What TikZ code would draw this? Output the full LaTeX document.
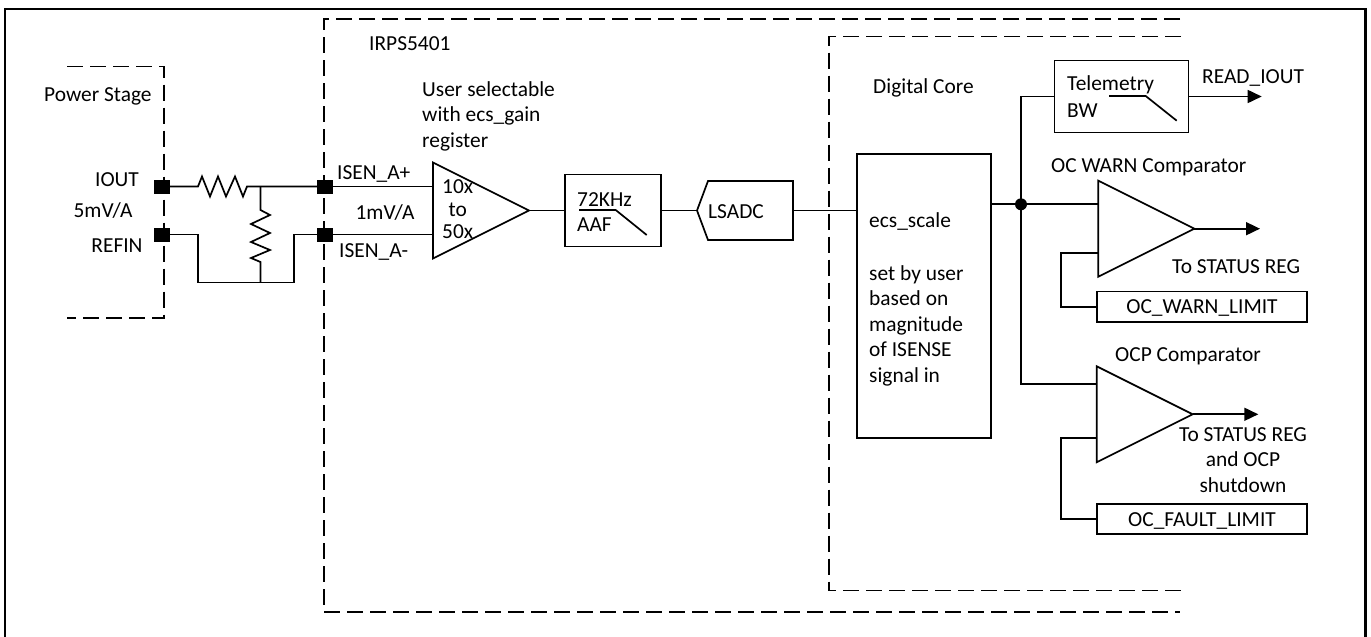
\documentclass[tikz,border=0pt]{standalone}
\usepackage{fontspec}
\setmainfont{Carlito}
\usetikzlibrary{arrows.meta,shapes.geometric}
\tikzset{
  wire/.style={line width=1.7pt},
  dashbox/.style={line width=1.7pt,dash pattern=on 16pt off 7pt},
  pinsq/.style={fill=black,inner sep=0pt,minimum width=16pt,minimum height=14pt},
  blockbox/.style={draw,line width=1.7pt,inner sep=0pt,outer sep=0pt},
  amptri/.style={draw,line width=1.7pt,isosceles triangle,isosceles triangle stretches,
    minimum width=96pt,minimum height=96pt,inner sep=0pt,outer sep=0pt,anchor=apex},
  lbl/.style={inner sep=0pt,yshift=-1.5pt,font=\fontsize{21.4}{25.5}\selectfont,align=left},
  lblc/.style={lbl,align=center},
  outwire/.style={line width=1.7pt,-{Triangle[length=14pt,width=13pt]}}
}
\begin{document}
\begin{tikzpicture}[x=1pt,y=-1pt]
\useasboundingbox (0,0) rectangle (1371,637);
\draw[line width=2.4pt] (5,637) -- (5,9) -- (1365.5,9) -- (1365.5,637);

\draw[dashbox] (67,66.5) -- (164,66.5) -- (164,318) -- (67,318);
\draw[dashbox] (1180,19) -- (324,19) -- (324,612) -- (1180,612);
\draw[dashbox] (1181,36.5) -- (829,36.5) -- (829,590.5) -- (1181,590.5);

\foreach \name/\x/\y in {iout/162/186.5, refin/162/234.5, isenp/325/186.5, isenm/325/234.5}
	{\node[pinsq] (\name) at (\x,\y) {};};

\node[amptri] (amp) at (529,210.5) {};
\node[blockbox,minimum width=96pt,minimum height=72pt] (aaf) at (613,210.5) {};
\node[blockbox,minimum width=134pt,minimum height=284pt] (ecs) at (924,295.7) {};
\node[blockbox,minimum width=134pt,minimum height=72pt] (telem) at (1121.5,96.5) {};
\node[amptri] (warn) at (1194.3,228.7) {};
\node[amptri] (ocp) at (1192.7,414.3) {};
\node[blockbox,minimum width=209.5pt,minimum height=30.5pt] (warnlim) at (1202,306.8) {};
\node[blockbox,minimum width=209.5pt,minimum height=30.5pt] (faultlim) at (1202,519) {};

\coordinate (adcl) at (697,210.5);
\coordinate (adcr) at (793,210.5);
\draw[wire] (adcl) -- (708,181) -- (793,181) -- (793,240) -- (708,240) -- cycle;

\coordinate (rsa) at (198,186.5);
\coordinate (rsb) at (247,186.5);
\coordinate (rpa) at (260.5,186.5);
\coordinate (rpb) at (260.5,210);
\coordinate (rpc) at (260.5,262);
\coordinate (rpd) at (260.5,282.5);
\coordinate (gnda) at (198,282.5);
\coordinate (gndb) at (294,282.5);
\coordinate (tap) at (1021,204.3);
\coordinate (ocpin) at (1021,384);
\fill (tap) circle(6pt);

\draw[wire] (iout) -- (rsa) -- ++(4,-10) -- ++(8,20) -- ++(8,-20) -- ++(8,20) -- ++(9,-20) -- ++(8,20) -- (rsb) -- (isenp);
\draw[wire] (isenp) -- (isenp -| amp.lower side);
\draw[wire] (rpa) -- (rpb) -- ++(9.5,5) -- ++(-19,9) -- ++(19,9) -- ++(-19,9) -- ++(19,8) -- ++(-19,8) -- (rpc) -- (rpd);
\draw[wire] (refin) -- (refin -| gnda) -- (gnda) -- (gndb) -- (isenm -| gndb) -- (isenm);
\draw[wire] (isenm) -- (isenm -| amp.lower side);
\draw[wire] (amp.apex) -- (aaf);
\draw[wire] (aaf) -- (adcl);
\draw[wire] (adcr) -- (adcr -| ecs.west);
\draw[wire] (tap -| ecs.east) -- (tap -| warn.lower side);
\draw[wire] (telem.west) -- (telem.west -| tap) -- (ocpin) -- (ocpin -| ocp.lower side);
\draw[outwire] (telem.east) -- (1261.7,96.5);
\draw[outwire] (warn.apex) -- (1260,228.7);
\draw[outwire] (ocp.apex) -- (1258.3,414.3);
\draw[wire] (warnlim.west) -- (1061.3,306.8) -- (1061.3,252.7) -- (warn.lower side |- 0,252.7);
\draw[wire] (faultlim.west) -- (1061.3,519) -- (1061.3,438) -- (ocp.lower side |- 0,438);

\draw[wire] (579,210) -- (615.7,210) -- (646.7,235);
\draw[wire] (1109,96) -- (1145.7,96) -- (1176.7,120.7);

\node[lbl,anchor=west] (lpower) at (44,95) {Power Stage};
\node[lbl] (liout) at (117,178) {IOUT};
\node[lbl] (lgain) at (103,209) {5mV/A};
\node[lbl] (lrefin) at (117,244) {REFIN};
\node[lbl,anchor=west] (lisenp) at (337,172) {ISEN\_A+};
\node[lbl] (lmv) at (385,211) {1mV/A};
\node[lbl,anchor=west] (lisenm) at (339,250) {ISEN\_A-};
\node[lbl,anchor=west] (lchip) at (369,42) {IRPS5401};
\node[lbl,anchor=north west] (lsel) at (422,79.5) {User selectable\\with ecs\_gain\\register};
\node[lblc] (lamp) at (457.7,208) {10x\\[-3pt]to\\[-3pt]50x};
\node[lbl,anchor=west] (lkhz) at (577,198) {72KHz};
\node[lbl,anchor=west] (laaf) at (577,223) {AAF};
\node[lbl,anchor=west] (ladc) at (708,210) {LSADC};
\node[lbl,anchor=west] (lcore) at (873,86) {Digital Core};
\node[lbl,anchor=west] (lscale) at (869,220) {ecs\_scale};
\node[lbl,anchor=north west] (lset) at (869,263.5) {set by user\\based on\\magnitude\\of ISENSE\\signal in};
\node[lbl,anchor=west] (ltel) at (1067,83) {Telemetry};
\node[lbl,anchor=west] (lbw) at (1067,109) {BW};
\node[lbl,anchor=west] (lread) at (1202,76) {READ\_IOUT};
\node[lbl,anchor=west] (lwarn) at (1051,166) {OC WARN Comparator};
\node[lbl,anchor=west] (lsta) at (1172,265) {To STATUS REG};
\node[lbl] (lwarnlim) at (warnlim) {OC\_WARN\_LIMIT};
\node[lbl,anchor=west] (locp) at (1115,355) {OCP Comparator};
\node[lblc,anchor=north] (lstb) at (1243,425.5) {To STATUS REG\\and OCP\\shutdown};
\node[lbl] (lfaultlim) at (faultlim) {OC\_FAULT\_LIMIT};
\end{tikzpicture}
\end{document}
